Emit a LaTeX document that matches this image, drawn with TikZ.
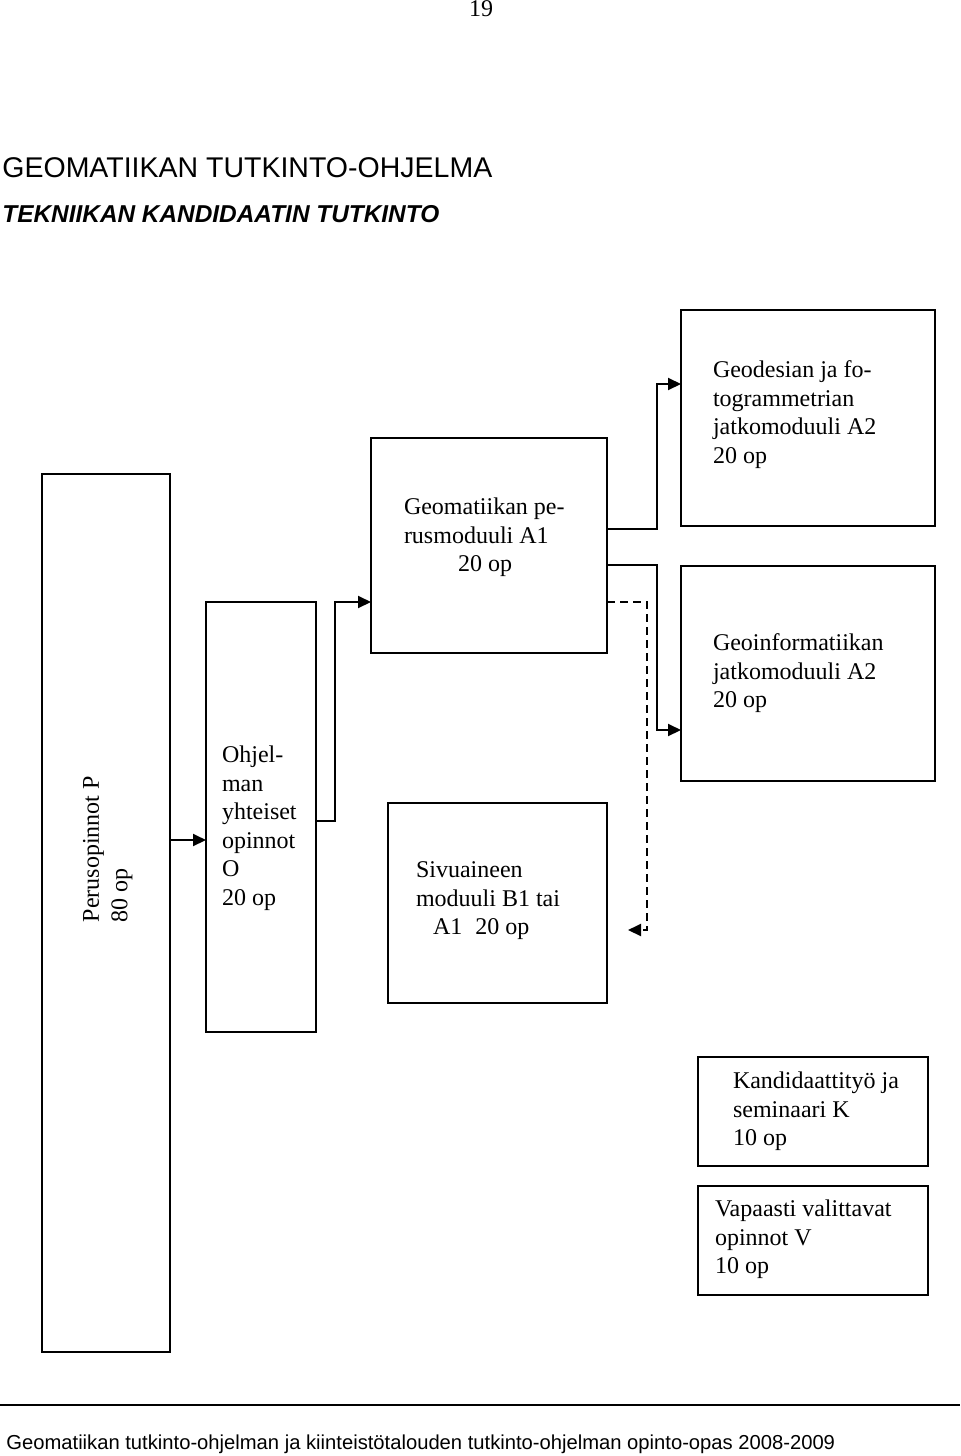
\documentclass[tikz,border=0pt]{standalone}
\usepackage{fontspec}
\setmainfont{Liberation Serif}
\newfontfamily\arialfont{Liberation Sans}
\usepackage{xcolor}
\usetikzlibrary{arrows.meta, positioning}

\begin{document}
\begin{tikzpicture}[
        x=0.5pt, y=-0.5pt,
        box/.style={rectangle, draw=black, line width=1pt, inner sep=0pt, outer sep=0pt},
        txt/.style={inner sep=0pt, outer sep=0pt, align=left, font=\fontsize{12}{14.25}\selectfont},
        head/.style={inner sep=0pt, anchor=base west},
        arrow/.style={-{Triangle[length=6.5pt,width=6pt]}, line width=1pt},
        dasharrow/.style={arrow, dash pattern=on 4pt off 2.5pt}
    ]
    \useasboundingbox (0,0) rectangle (960,1456);

    % Header
    \node[txt, anchor=base] (page) at (481,17) {19};
    \node[head, font=\arialfont\fontsize{14.25}{16}\selectfont] (title) at (2,177) {GEOMATIIKAN TUTKINTO-OHJELMA};
    \node[head, font=\arialfont\bfseries\itshape\fontsize{12.2}{14}\selectfont] (subtitle) at (2,222) {TEKNIIKAN KANDIDAATIN TUTKINTO};

    % Nodes
    \node[box, minimum width=64pt, minimum height=439pt] (perus) at (106,913) {};
    \node[box, minimum width=55pt, minimum height=215pt] (yhteiset) at (261,817) {};
    \node[box, minimum width=118pt, minimum height=107.5pt] (perusA1) at (489,545.5) {};
    \node[box, minimum width=109.5pt, minimum height=100pt] (sivuB1) at (497.5,903) {};
    \node[box, minimum width=127pt, minimum height=108pt] (geodA2) at (808,418) {};
    \node[box, minimum width=127pt, minimum height=107.5pt, below=20pt of geodA2] (geoinfA2) {};
    \node[box, minimum width=115pt, minimum height=54.5pt] (kandi) at (813,1111.5) {};
    \node[box, minimum width=115pt, minimum height=54.5pt, below=10pt of kandi] (vapaa) {};

    % Texts
    \node[txt, rotate=90, anchor=north west] (perusT) at (83,922) {Perusopinnot P\\80 op};
    \node[txt, below right=72pt and 8pt of yhteiset.north west] (yhteisetT) {Ohjel-\\man\\yhteiset\\opinnot\\O\\20 op};
    \node[txt, below right=30pt and 16.5pt of perusA1.north west] (perusA1T) {Geomatiikan pe-\\rusmoduuli A1\\\hspace*{27pt}20 op};
    \node[txt, below right=29.5pt and 14pt of sivuB1.north west] (sivuB1T) {Sivuaineen\\moduuli B1 tai\\\hspace*{8.5pt}A1\hspace{6.5pt}20 op};
    \node[txt, below right=25.5pt and 16pt of geodA2.north west] (geodA2T) {Geodesian ja fo-\\togrammetrian\\jatkomoduuli A2\\20 op};
    \node[txt, below right=34pt and 16pt of geoinfA2.north west] (geoinfA2T) {Geoinformatiikan\\jatkomoduuli A2\\20 op};
    \node[txt, below right=7.5pt and 17.5pt of kandi.north west] (kandiT) {Kandidaattityö ja\\seminaari K\\10 op};
    \node[txt, below right=7pt and 8.5pt of vapaa.north west] (vapaaT) {Vapaasti valittavat\\opinnot V\\10 op};

    % Arrows
    \coordinate (sivuEnd) at (628,930);
    \draw[arrow] (perus.east |- 0,840) -- (yhteiset.west |- 0,840);
    \draw[arrow] (yhteiset.east |- 0,821) -- (335,821) |- (perusA1.west |- 0,602);
    \draw[arrow] (perusA1.east |- 0,529) -- (657,529) |- (geodA2.west |- 0,384);
    \draw[arrow] (perusA1.east |- 0,565) -- (657,565) |- (geoinfA2.west |- 0,730);
    \draw[dasharrow] (perusA1.east |- 0,602) -- (647,602) |- (sivuEnd);

    % Footer
    \draw[line width=0.6pt] (0,1405) -- (960,1405);
    \node[head, font=\arialfont\fontsize{10.1}{12}\selectfont] (footer) at (6,1449) {Geomatiikan tutkinto-ohjelman ja kiinteistötalouden tutkinto-ohjelman opinto-opas 2008-2009};
\end{tikzpicture}
\end{document}
